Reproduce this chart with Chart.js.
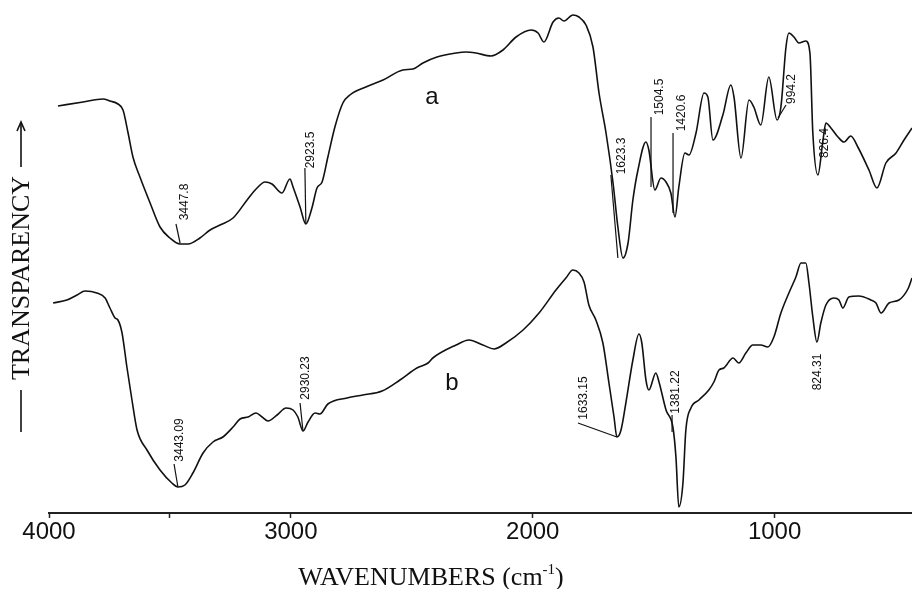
<!DOCTYPE html>
<html><head><meta charset="utf-8">
<script src="https://cdn.jsdelivr.net/npm/chart.js@4.4.1/dist/chart.umd.min.js"></script>
<style>html,body{margin:0;padding:0;background:#fff;}#wrap{width:912px;height:589px;position:relative;}</style>
</head><body><div id="wrap"><canvas id="c" width="912" height="589"></canvas></div>
<script>
// Spectrum a: wavenumber (cm-1) and transparency (arbitrary %)
const waveA = [3963,3859,3777,3748,3715,3694,3673,3653,3624,3582,3541,3500,3458,3425,3376,3334,3293,3239,3181,3140,3107,3078,3037,3004,2991,2962,2938,2913,2892,2871,2847,2818,2785,2756,2690,2619,2537,2495,2454,2396,2317,
2276,2235,2173,2123,2069,2007,1978,1954,1916,1892,1871,1834,1809,1780,1751,1726,1697,1668,1648,1627,1606,1586,1565,1532,1520,1495,1470,1449,1429,1412,1396,1371,1354,1325,1292,1276,1255,1214,1181,1168,1139,1106,1086,1057,1024,990,974,953,941,920,900,871,854,842,821,800,788,767,738,713,685,656,610,577,540,498,465,432];
const transA = [81.4,82.2,82.8,82.4,81.8,80.6,76,71.2,67.2,62,57.2,55,53.8,53.8,55,56.6,57.6,59,62.6,65,66.2,65.8,64,66.8,65.2,61.2,57.8,61,65,66.2,71.2,77.2,82,83.6,85.2,86.6,88.6,88.8,90,91.2,92,
92.2,92,91.4,92.6,95.2,96.6,96,94.2,98.2,99,98.4,99.6,99.2,97.6,93.2,84,76,66,57.2,51,54,62.6,68.6,74.2,72.6,64.6,67,66.2,64,59.2,65.2,72,71.6,76,84,83.2,74.6,79.6,85.6,83.2,71,82.6,81.2,77.6,87.2,78.6,81.2,93.2,96,95.2,94,94.4,92,76,67.6,74.6,78,77,75.2,74.2,75.4,73.2,68.6,65,70,72,74.6,77];
// Spectrum b
const waveB = [3983,3926,3884,3851,3802,3768,3748,3727,3715,3698,3678,3657,3636,3595,3541,3492,3467,3438,3405,3363,3322,3281,3239,3210,3177,3144,3119,3095,3057,3020,2991,2971,2950,2929,2900,2880,2847,2768,2702,2623,2549,2479,2433,2413,2317,
2264,2206,2160,2111,2040,1974,1904,1863,1834,1809,1788,1768,1739,1710,1685,1664,1652,1635,1615,1586,1561,1549,1532,1520,1491,1478,1449,1420,1408,1396,1379,1367,1346,1313,1272,1251,1230,1210,1172,1148,1119,1090,1057,1028,1003,974,941,912,891,871,858,842,825,809,788,755,734,718,693,652,602,581,560,527,486,449,432];
const transB = [42,42.6,43.6,44.4,44,43,41,39,38.6,36,29.2,22.6,16.6,12.6,8.6,6,5.2,5.6,8,12,14.2,15.2,17.2,18.8,19.2,20,19.2,18.4,19.6,21,20.6,19.2,16.4,18.2,20,19.8,21.8,23,23.6,24.4,26.6,29,30,31,33.6,
34.6,33.6,32.8,34,36.6,40,44.6,47,48.6,48,46.2,41.6,38.6,34,26,19.2,15.2,16.6,22,30.6,35.8,34,26.6,24.6,28,26.2,20.6,17,11.2,1.2,6,16.6,21,22.6,24.6,26.2,28.6,29,31,30,32,33.6,33.6,33.2,35.2,40,44,47.2,50,50,46,39.2,34.2,38,41.6,43,42.6,41,43.2,43.4,42.6,42,40,42,42.6,44.8,47];
// Axis ticks
const tickValues = [4000,3500,3000,2000,1000];
const tickLabels = ['4000','','3000','2000','1000'];
// Peak labels
const peakTextA = ['3447.8','2923.5','1623.3','1504.5','1420.6','994.2','826.4'];
const peakTextB = ['3443.09','2930.23','1633.15','1381.22','824.31'];
const seriesNames = ['a','b'];

// annotation placement (data coordinates: wavenumber, transparency)
const annA = [
  {line:[3458,54.0,3475,57.8], at:[3438,62.2]},
  {line:[2942,69,2938,57.8], at:[2917,72.6]},
  {line:[1677,67.6,1648,51], at:[1631,71.4]},
  {line:[1511,79.2,1511,65.2], at:[1474,83.2]},
  {line:[1420,76,1420,60], at:[1383,80]},
  {line:[986,79,953,81.6], at:[928,84.8]},
  {line:null, at:[792,74]}
];
const annB = [
  {line:[3467,5.2,3483,9.8], at:[3458,14.6]},
  {line:[2950,16.4,2962,22], at:[2938,27]},
  {line:[1652,15.2,1813,18], at:[1788,23]},
  {line:[1424,19.6,1424,16.2], at:[1408,24.2]},
  {line:null, at:[821,28.2]}
];
const nameAt = [[2417,83.2],[2334,26]];

const toPts = (w,t)=>w.map((x,i)=>({x:x,y:t[i]}));

const decor = {
  id:'decor',
  afterDatasetsDraw(chart){
    const ctx = chart.ctx, xs = chart.scales.x, ys = chart.scales.y;
    const X = v=>xs.getPixelForValue(v), Y = v=>ys.getPixelForValue(v);
    ctx.save();
    ctx.strokeStyle = '#111'; ctx.fillStyle = '#111'; ctx.lineWidth = 1.2;
    const drawSet = (ann, texts)=>{
      ann.forEach((a,i)=>{
        if(a.line){
          ctx.beginPath();
          ctx.moveTo(X(a.line[0]),Y(a.line[1]));
          ctx.lineTo(X(a.line[2]),Y(a.line[3]));
          ctx.stroke();
        }
        ctx.save();
        ctx.translate(X(a.at[0]),Y(a.at[1]));
        ctx.rotate(-Math.PI/2);
        ctx.font = '12px "Liberation Sans", Arial, sans-serif';
        ctx.textAlign='center'; ctx.textBaseline='middle';
        ctx.fillText(texts[i],0,0);
        ctx.restore();
      });
    };
    drawSet(annA, peakTextA);
    drawSet(annB, peakTextB);
    ctx.font = '24px "Liberation Sans", Arial, sans-serif';
    ctx.textAlign='center'; ctx.textBaseline='middle';
    seriesNames.forEach((n,i)=>ctx.fillText(n, X(nameAt[i][0]), Y(nameAt[i][1])));

    // x title
    const ty = 585;
    ctx.textBaseline='alphabetic'; ctx.textAlign='left';
    const f1 = '26px "Liberation Serif", "Times New Roman", serif';
    const f2 = '15px "Liberation Serif", "Times New Roman", serif';
    ctx.font = f1; const w1 = ctx.measureText('WAVENUMBERS (cm').width;
    ctx.font = f2; const w2 = ctx.measureText('-1').width;
    ctx.font = f1; const w3 = ctx.measureText(')').width;
    let sx = 431 - (w1+w2+w3)/2;
    ctx.font = f1; ctx.fillText('WAVENUMBERS (cm', sx, ty);
    ctx.font = f2; ctx.fillText('-1', sx+w1, ty-11);
    ctx.font = f1; ctx.fillText(')', sx+w1+w2, ty);

    // y title
    ctx.save();
    ctx.translate(29, 278);
    ctx.rotate(-Math.PI/2);
    ctx.font = '26px "Liberation Serif", "Times New Roman", serif';
    ctx.textAlign='center'; ctx.textBaseline='alphabetic';
    ctx.fillText('TRANSPARENCY', 0, 0);
    ctx.restore();
    ctx.lineWidth = 1.6;
    ctx.beginPath(); ctx.moveTo(21,390); ctx.lineTo(21,432); ctx.stroke();
    ctx.beginPath(); ctx.moveTo(21,167); ctx.lineTo(21,123); ctx.stroke();
    ctx.beginPath(); ctx.moveTo(17,131); ctx.lineTo(21,122); ctx.lineTo(25,131); ctx.stroke();
    ctx.restore();
  }
};

new Chart(document.getElementById('c'), {
  type:'line',
  data:{datasets:[
    {label:'a', data:toPts(waveA,transA), borderColor:'#111', borderWidth:1.6, pointRadius:0, cubicInterpolationMode:'monotone', fill:false, clip:false},
    {label:'b', data:toPts(waveB,transB), borderColor:'#111', borderWidth:1.6, pointRadius:0, cubicInterpolationMode:'monotone', fill:false, clip:false}
  ]},
  options:{
    responsive:false, animation:false, devicePixelRatio:1,
    layout:{padding:{left:49,right:0,top:13,bottom:0}},
    plugins:{legend:{display:false}, tooltip:{enabled:false}},
    scales:{
      x:{type:'linear', reverse:true, min:432, max:4000,
        afterBuildTicks(s){ s.ticks = tickValues.map(v=>({value:v})); },
        afterFit(s){ s.height = 76; },
        grid:{drawOnChartArea:false, drawTicks:true, tickLength:5, tickColor:'#222', tickWidth:1.5},
        border:{display:true, color:'#222', width:2},
        ticks:{padding:0, maxRotation:0, autoSkip:false, color:'#111',
          font:{family:'"Liberation Sans", Arial, sans-serif', size:24},
          callback(v){ const i = tickValues.indexOf(v); return i>=0 ? tickLabels[i] : ''; }}
      },
      y:{display:false, min:0, max:100}
    }
  },
  plugins:[decor]
});
</script></body></html>
